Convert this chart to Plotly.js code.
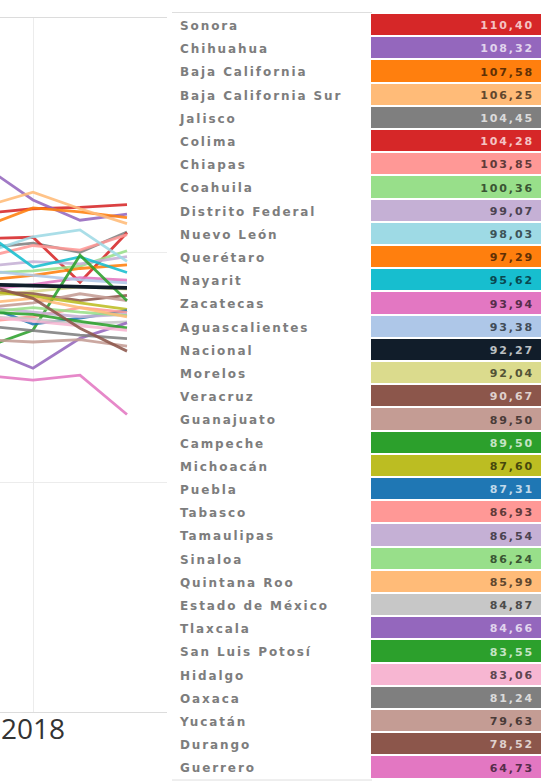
<!DOCTYPE html>
<html>
<head>
<meta charset="utf-8">
<script src="https://cdn.plot.ly/plotly-3.0.1.min.js"></script>
<style>
  html, body { margin: 0; padding: 0; background: #fff; }
  #chart { width: 544px; height: 783px; }
  .cell-text { letter-spacing: 1.9px; }
</style>
</head>
<body>
<div id="chart"></div>
<script>
const years = [2017, 2018, 2019, 2020];
const tickYears = [2018];
const tickLabels = ['2018'];

const states = ['Sonora','Chihuahua','Baja California','Baja California Sur','Jalisco','Colima','Chiapas','Coahuila','Distrito Federal','Nuevo León','Querétaro','Nayarit','Zacatecas','Aguascalientes','Nacional','Morelos','Veracruz','Guanajuato','Campeche','Michoacán','Puebla','Tabasco','Tamaulipas','Sinaloa','Quintana Roo','Estado de México','Tlaxcala','San Luis Potosí','Hidalgo','Oaxaca','Yucatán','Durango','Guerrero'];

const v2017 = [108.5,118.5,105.8,110.1,101.0,103.0,99.0,95.5,97.0,100.0,94.0,104.2,92.0,96.0,93.0,90.5,91.5,88.0,79.4,91.5,88.4,85.0,88.0,87.0,89.0,86.0,79.0,87.0,86.0,84.0,81.0,92.9,73.2];
const v2018 = [109.5,111.4,109.7,113.1,102.0,103.3,101.5,96.0,98.0,103.4,95.0,96.8,93.0,95.0,92.8,91.5,91.0,89.0,83.1,90.5,84.4,86.0,87.0,88.0,90.0,85.5,74.8,86.5,85.0,83.0,80.5,90.0,72.2];
const v2019 = [109.8,107.0,108.8,109.5,100.0,93.5,100.5,97.0,97.5,104.9,96.5,99.0,94.5,94.0,92.5,92.5,89.5,91.0,99.4,89.0,85.7,88.0,86.0,87.0,88.0,84.5,81.3,85.0,84.0,82.0,81.0,83.5,73.3];
const v2020 = [110.40,108.32,107.58,106.25,104.45,104.28,103.85,100.36,99.07,98.03,97.29,95.62,93.94,93.38,92.27,92.04,90.67,89.50,89.50,87.60,87.31,86.93,86.54,86.24,85.99,84.87,84.66,83.55,83.06,81.24,79.63,78.52,64.73];

const colors = ['#d62728','#9467bd','#ff7f0e','#ffbb78','#7f7f7f','#d62728','#ff9896','#98df8a','#c5b0d5','#9edae5','#ff7f0e','#17becf','#e377c2','#aec7e8','#111d2a','#dbdb8d','#8c564b','#c49c94','#2ca02c','#bcbd22','#1f77b4','#ff9896','#c5b0d5','#98df8a','#ffbb78','#c7c7c7','#9467bd','#2ca02c','#f7b6d2','#7f7f7f','#c49c94','#8c564b','#e377c2'];
const lightText = [true,true,false,false,true,true,false,false,false,false,false,false,false,false,true,false,true,false,true,false,true,false,false,false,false,false,true,true,false,true,false,true,false];

function hexToRgb(h){ return [parseInt(h.substr(1,2),16),parseInt(h.substr(3,2),16),parseInt(h.substr(5,2),16)]; }
function mix(h, target, t){ const c = hexToRgb(h); return 'rgb(' + c.map(v => Math.round(v + (target - v) * t)).join(',') + ')'; }
const textColors = colors.map((c, i) => lightText[i] ? mix(c, 255, 0.72) : mix(c, 0, 0.62));

const traces = [];
const order = states.map((s, i) => i).filter(i => states[i] !== 'Nacional');
order.push(states.indexOf('Nacional'));
order.forEach(i => {
  traces.push({
    type: 'scatter', mode: 'lines',
    x: years,
    y: [v2017[i], v2018[i], v2019[i], v2020[i]],
    name: states[i],
    line: { color: colors[i], width: states[i] === 'Nacional' ? 3.6 : 2.8 },
    opacity: states[i] === 'Nacional' ? 1 : 0.88,
    hoverinfo: 'skip', showlegend: false,
    xaxis: 'x', yaxis: 'y'
  });
});

const W = 544, H = 783;
traces.push({
  type: 'table',
  domain: { x: [172 / W, 542 / W], y: [1 - 781 / H, 1 - 12 / H] },
  columnwidth: [198, 172],
  header: { values: [[''], ['']], height: 1, fill: { color: 'rgba(0,0,0,0)' }, line: { width: 0, color: 'rgba(0,0,0,0)' } },
  cells: {
    values: [states, v2020.map(v => v.toFixed(2).replace('.', ','))],
    height: 23.2,
    align: ['left', 'right'],
    fill: { color: [states.map(() => '#ffffff'), colors] },
    font: { family: 'DejaVu Sans', size: [12, 11], color: [states.map(() => '#7d7d7d'), textColors], weight: 'bold' },
    line: { color: '#ffffff', width: 2 }
  }
});

const layout = {
  width: W, height: H,
  margin: { l: 0, r: 0, t: 0, b: 0 },
  paper_bgcolor: '#ffffff', plot_bgcolor: '#ffffff',
  showlegend: false,
  xaxis: {
    domain: [0, 167 / W],
    range: [2017.298, 2020.851],
    tickvals: tickYears, ticktext: tickLabels,
    showgrid: true, gridcolor: '#ececec', gridwidth: 1,
    zeroline: false, showline: true, mirror: true, linecolor: '#dcdcdc', linewidth: 1,
    ticks: '',
    ticklabelstandoff: -8,
    tickfont: { family: 'Open Sans', size: 28, color: '#333333' },
    fixedrange: true
  },
  yaxis: {
    domain: [1 - 712 / H, 1 - 18 / H],
    range: [0, 151],
    tickvals: [0, 50, 100],
    showticklabels: false,
    showgrid: true, gridcolor: '#ececec', gridwidth: 1,
    zeroline: false, showline: false, ticks: '',
    fixedrange: true
  },
  shapes: [
    { type: 'line', xref: 'paper', yref: 'paper', x0: 172 / W, x1: 372 / W, y0: 1 - 12.5 / H, y1: 1 - 12.5 / H, line: { color: '#dedede', width: 1 } },
    { type: 'line', xref: 'paper', yref: 'paper', x0: 172 / W, x1: 372 / W, y0: 1 - 780 / H, y1: 1 - 780 / H, line: { color: '#dedede', width: 1 } }
  ]
};

Plotly.newPlot('chart', traces, layout, { displayModeBar: false, staticPlot: true });
</script>
</body>
</html>
